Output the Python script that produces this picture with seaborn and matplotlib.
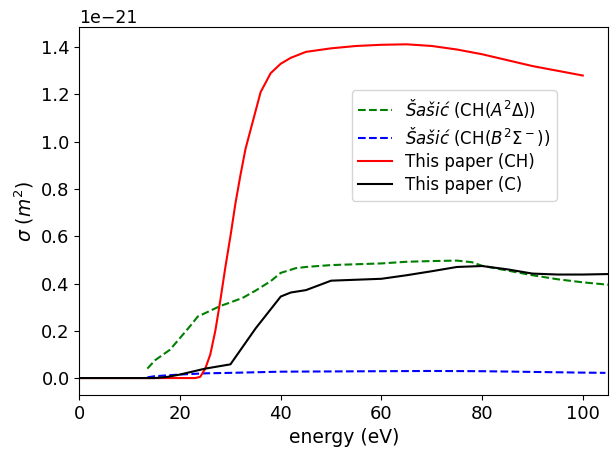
import numpy as np
import matplotlib
matplotlib.use('Agg')
import matplotlib.pyplot as plt
import seaborn as sns

# Cross sections (units of 1e-21 m^2)
sasic_a_energy = [13.5, 15, 18, 20, 22, 23.5, 25, 28, 30, 32.5, 35, 38, 40, 43, 45, 50,
                  60, 65, 70, 75, 78, 80, 85, 90, 95, 100, 105]
sasic_a_sigma = [0.04, 0.075, 0.12, 0.17, 0.22, 0.26, 0.275, 0.305, 0.32, 0.34, 0.37, 0.41,
                 0.445, 0.465, 0.47, 0.478, 0.485, 0.492, 0.495, 0.497, 0.49, 0.475, 0.455,
                 0.435, 0.418, 0.405, 0.395]

sasic_b_energy = [13.5, 15, 20, 25, 30, 40, 50, 60, 70, 80, 90, 100, 104.5]
sasic_b_sigma = [0.003, 0.008, 0.015, 0.02, 0.022, 0.027, 0.028, 0.029, 0.03, 0.029, 0.026,
                 0.023, 0.022]

ch_energy = [0, 5, 10, 15, 20, 22, 23, 24, 25, 26, 27, 28, 29, 30, 31, 32, 33, 34, 36, 38,
             40, 42, 45, 50, 55, 60, 65, 70, 75, 80, 85, 90, 95, 100]
ch_sigma = [0, 0, 0, 0, 0, 0, 0, 0.005, 0.04, 0.1, 0.2, 0.33, 0.47, 0.6, 0.74, 0.86, 0.97,
            1.05, 1.21, 1.29, 1.33, 1.355, 1.38, 1.395, 1.405, 1.41, 1.412, 1.405, 1.39, 1.37,
            1.345, 1.32, 1.3, 1.28]

c_energy = [0, 10, 15, 17.5, 20, 25, 30, 35, 40, 42, 45, 50, 60, 65, 70, 75, 80, 85, 90, 95,
            100, 105]
c_sigma = [0, 0, 0, 0.005, 0.015, 0.04, 0.058, 0.21, 0.345, 0.362, 0.372, 0.412, 0.42, 0.435,
           0.452, 0.47, 0.474, 0.46, 0.442, 0.438, 0.438, 0.44]

scale = 1e-21

fig, ax = plt.subplots(figsize=(6.11, 4.51), dpi=100)

sns.lineplot(x=sasic_a_energy, y=np.array(sasic_a_sigma) * scale, color='g', linestyle='--',
             label=r'$Šašić$ (CH($A^2\Delta$))', ax=ax)
sns.lineplot(x=sasic_b_energy, y=np.array(sasic_b_sigma) * scale, color='b', linestyle='--',
             label=r'$Šašić$ (CH($B^2\Sigma^-$))', ax=ax)
sns.lineplot(x=ch_energy, y=np.array(ch_sigma) * scale, color='r',
             label='This paper (CH)', ax=ax)
sns.lineplot(x=c_energy, y=np.array(c_sigma) * scale, color='k',
             label='This paper (C)', ax=ax)

ax.set_xlim(0, 105)
ax.set_ylim(-0.072e-21, 1.485e-21)
ax.set_xlabel('energy (eV)', fontsize=13.5)
ax.set_ylabel(r'$\sigma$ ($m^2$)', fontsize=13.5)
ax.tick_params(labelsize=13)
ax.yaxis.get_offset_text().set_fontsize(12.5)
ax.legend(loc='upper right', bbox_to_anchor=(0.903, 0.828), borderaxespad=0, fontsize=12,
          labelspacing=0.3)

plt.subplots_adjust(left=0.13, right=0.995, top=0.94, bottom=0.124)
plt.savefig('out.png', dpi=100)
